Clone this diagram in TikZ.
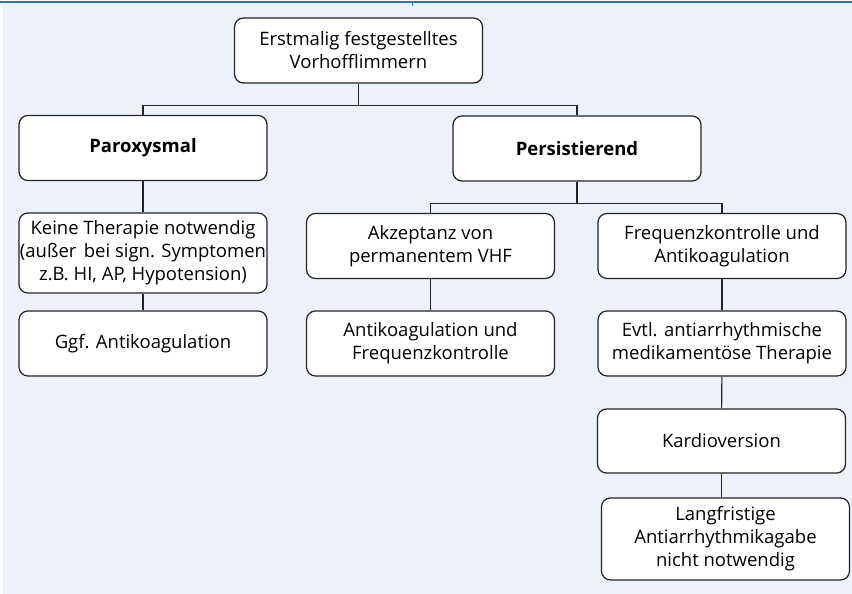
\documentclass[tikz,border=0pt]{standalone}
\usepackage{fontspec}
\setmainfont{Open Sans}
\definecolor{BgClr}{RGB}{237,242,250}
\definecolor{RuleClr}{RGB}{46,117,182}
\definecolor{LineClr}{RGB}{35,35,35}

\tikzset{
  box/.style={draw=LineClr,line width=1.2pt,rounded corners=9pt,fill=white,
    minimum width=248pt,minimum height=65pt,align=center,inner xsep=1pt,inner ysep=2pt,
    text=black,font=\fontsize{18.5}{23}\selectfont},
  link/.style={draw=LineClr,line width=1.1pt}
}

\begin{document}
\begin{tikzpicture}[x=1pt,y=-1pt]
\useasboundingbox (0,0) rectangle (852,594);
\fill[BgClr] (3,4) rectangle (852,594);
\draw[RuleClr,line width=2pt] (0,2.5) -- (852,2.5);
\draw[RuleClr,line width=1pt] (412,2.5) -- (412,6);

\node[box] (erst) at (358.5,50.5) {Erstmalig festgestelltes\\Vorhofflimmern};

\node[box,font=\fontsize{18.5}{23}\selectfont\bfseries] (parox) at (143,148) {Paroxysmal};
\node[box,font=\fontsize{18.5}{23}\selectfont\bfseries] (pers) at (577,148.5) {Persistierend};

% linker Zweig
\node[box,minimum height=80pt] (keine) at (143,253)
  {Keine Therapie notwendig\\(außer\hspace{.4em}bei sign. Symptomen\\z.B. HI, AP, Hypotension)};
\node[box] (ggf) at (143,343.5) {Ggf. Antikoagulation};

% rechter Zweig
\node[box] (akz) at (430.5,246) {Akzeptanz von\\permanentem VHF};
\node[box] (freq) at (722,246) {Frequenzkontrolle und\\Antikoagulation};
\node[box] (antiko) at (430.5,343.5) {Antikoagulation und\\Frequenzkontrolle};
\node[box] (evtl) at (722,343.5) {Evtl. antiarrhythmische\\medikamentöse Therapie};
\node[box,minimum height=64pt] (kardio) at (721.5,441) {Kardioversion};
\node[box,minimum height=82pt] (lang) at (725.5,539)
  {Langfristige\\Antiarrhythmikagabe\\nicht notwendig};

\draw[link] (erst.south) -- ++(0,22) coordinate (jA);
\draw[link] (parox.north) |- (jA) -| (pers.north);
\draw[link] (pers.south) -- ++(0,22) coordinate (jB);
\draw[link] (akz.north) |- (jB) -| (freq.north);

\draw[link] (parox) -- (keine);
\draw[link] (keine) -- (ggf);
\draw[link] (akz) -- (antiko);
\draw[link] (freq) -- (evtl);
\draw[link] (evtl) -- (kardio);
\draw[link] (kardio.south) -- (kardio.south |- lang.north);

\end{tikzpicture}
\end{document}
